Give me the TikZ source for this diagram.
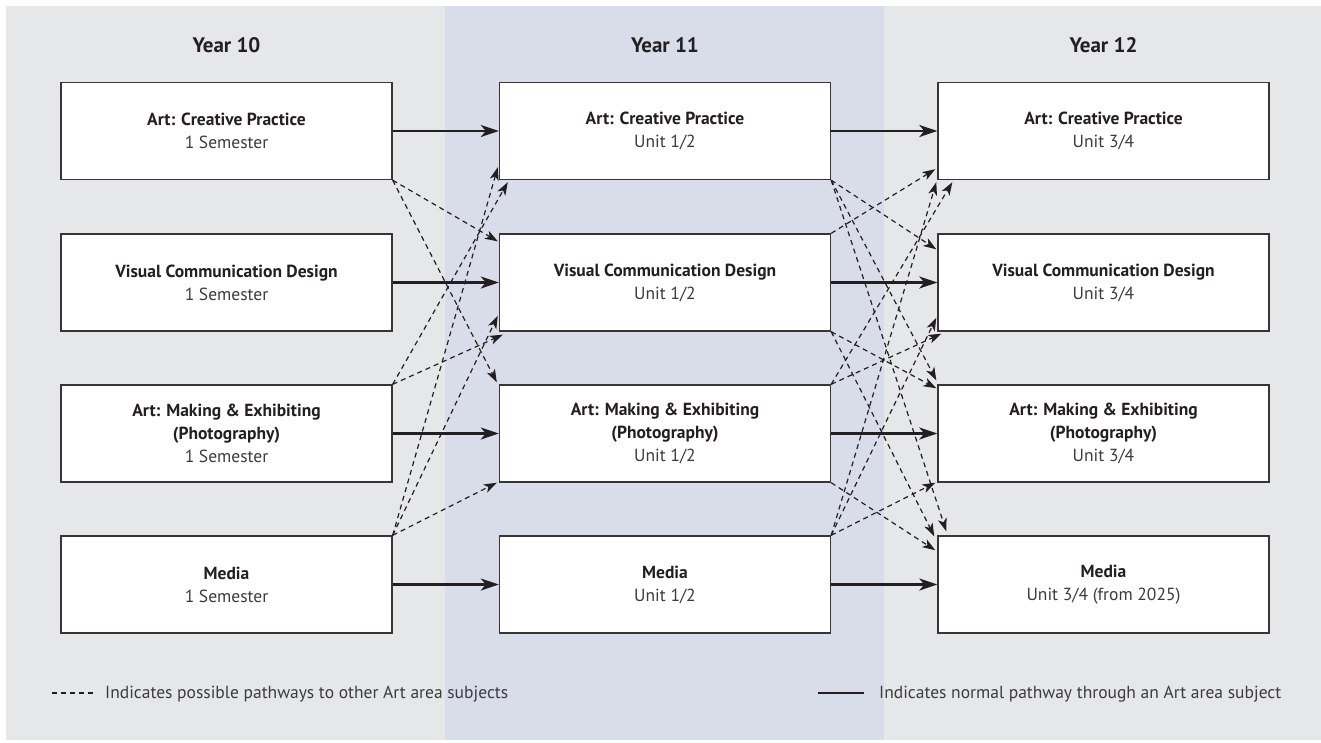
\documentclass[tikz,border=0pt]{standalone}
\usepackage{fontspec}
\setmainfont{PT Sans}
\usetikzlibrary{arrows.meta,calc}
\definecolor{bggray}{RGB}{230,231,233}
\definecolor{band}{RGB}{217,221,234}
\definecolor{ink}{RGB}{35,31,32}
\definecolor{soft}{RGB}{60,60,62}
\tikzset{
  box/.style={draw=ink!90, line width=1.4pt, fill=white, minimum width=331pt, minimum height=97pt,
    align=center, inner sep=0pt, font=\fontsize{17.5}{23}\selectfont, text=ink},
  normal/.style={line width=2.6pt, draw=ink, -{Stealth[length=18pt,width=12pt,inset=5pt]}},
  possible/.style={line width=1.2pt, draw=ink, dash pattern=on 5pt off 4pt,
    -{Stealth[length=13pt,width=9pt,inset=3.5pt]}},
  yearlbl/.style={font=\bfseries\fontsize{21}{25}\selectfont, text=ink, anchor=base, inner sep=0pt},
  legendtxt/.style={font=\fontsize{17.5}{21}\selectfont, text=soft, anchor=base west, inner sep=0pt},
}
\begin{document}
\begin{tikzpicture}[x=1pt,y=-1pt]
\useasboundingbox (0,0) rectangle (1321,742);
\fill[bggray] (6,6) rectangle (1321,740);
\fill[band] (445,6) rectangle (884,740);

% year titles
\node[yearlbl] (y10) at (226.5,52) {Year 10};
\node[yearlbl] (y11) at (665,52) {Year 11};
\node[yearlbl] (y12) at (1103.5,52) {Year 12};

% column 1
\node[box] (a1) at (226.5,131) {\textbf{Art: Creative Practice}\\{\color{soft}1 Semester}};
\node[box] (a2) at (226.5,282.5) {\textbf{Visual Communication Design}\\{\color{soft}1 Semester}};
\node[box] (a3) at (226.5,433.5) {\textbf{Art: Making \& Exhibiting}\\\textbf{(Photography)}\\{\color{soft}1 Semester}};
\node[box] (a4) at (226.5,584.5) {\textbf{Media}\\{\color{soft}1 Semester}};
% column 2
\node[box] (b1) at (665,131) {\textbf{Art: Creative Practice}\\{\color{soft}Unit 1/2}};
\node[box] (b2) at (665,282.5) {\textbf{Visual Communication Design}\\{\color{soft}Unit 1/2}};
\node[box] (b3) at (665,433.5) {\textbf{Art: Making \& Exhibiting}\\\textbf{(Photography)}\\{\color{soft}Unit 1/2}};
\node[box] (b4) at (665,584.5) {\textbf{Media}\\{\color{soft}Unit 1/2}};
% column 3
\node[box] (c1) at (1103.5,131) {\textbf{Art: Creative Practice}\\{\color{soft}Unit 3/4}};
\node[box] (c2) at (1103.5,282.5) {\textbf{Visual Communication Design}\\{\color{soft}Unit 3/4}};
\node[box] (c3) at (1103.5,433.5) {\textbf{Art: Making \& Exhibiting}\\\textbf{(Photography)}\\{\color{soft}Unit 3/4}};
\node[box] (c4) at (1103.5,584.5) {\textbf{Media}\\{\color{soft}Unit 3/4 (from 2025)}};

% normal pathways
\foreach \s/\t in {a1/b1,a2/b2,a3/b3,a4/b4,b1/c1,b2/c2,b3/c3,b4/c4}
  \draw[normal] (\s.east) -- (\t.west);

% possible pathways, year 10 -> year 11
\draw[possible] (a1.south east) -- ($(b2.north west)+(-1,8)$);
\draw[possible] (a1.south east) -- ($(b3.north west)+(-2,-2)$);
\draw[possible] (a3.north east) -- ($(b1.south west)+(9,2)$);
\draw[possible] (a3.north east) -- ($(b2.south west)+(4,3)$);
\draw[possible] (a4.north east) -- ($(b1.south west)+(-1,-13)$);
\draw[possible] (a4.north east) -- ($(b2.south west)+(-1,-16)$);
\draw[possible] (a4.north east) -- ($(b3.south west)+(-2,0)$);

% possible pathways, year 11 -> year 12
\draw[possible] (b1.south east) -- ($(c2.north west)+(-1,16)$);
\draw[possible] (b1.south east) -- ($(c3.north west)+(-1,-4)$);
\draw[possible] (b1.south east) -- ($(c4.north west)+(9,-4)$);
\draw[possible] (b2.north east) -- ($(c1.south west)+(-2,-11)$);
\draw[possible] (b2.south east) -- ($(c3.north west)+(-1,4)$);
\draw[possible] (b2.south east) -- ($(c4.north west)+(-3,1)$);
\draw[possible] (b3.north east) -- ($(c1.south west)+(15,2)$);
\draw[possible] (b3.north east) -- ($(c2.south west)+(4,2)$);
\draw[possible] (b3.south east) -- ($(c4.north west)+(-2,15)$);
\draw[possible] (b4.north east) -- ($(c1.south west)+(-1,2)$);
\draw[possible] (b4.north east) -- ($(c2.south west)+(-1,-14)$);
\draw[possible] (b4.north east) -- ($(c3.south west)+(-2,0)$);

% legend
\coordinate (ld1) at (52,693);
\coordinate (ld2) at (94,693);
\draw[line width=1.2pt, draw=ink, dash pattern=on 5pt off 4pt] (ld1) -- (ld2);
\node[legendtxt] (lt1) at (105,698) {Indicates possible pathways to other Art area subjects};
\coordinate (ls1) at (818,693);
\coordinate (ls2) at (864,693);
\draw[line width=2.6pt, draw=ink] (ls1) -- (ls2);
\node[legendtxt] (lt2) at (879,698) {Indicates normal pathway through an Art area subject};
\end{tikzpicture}
\end{document}
